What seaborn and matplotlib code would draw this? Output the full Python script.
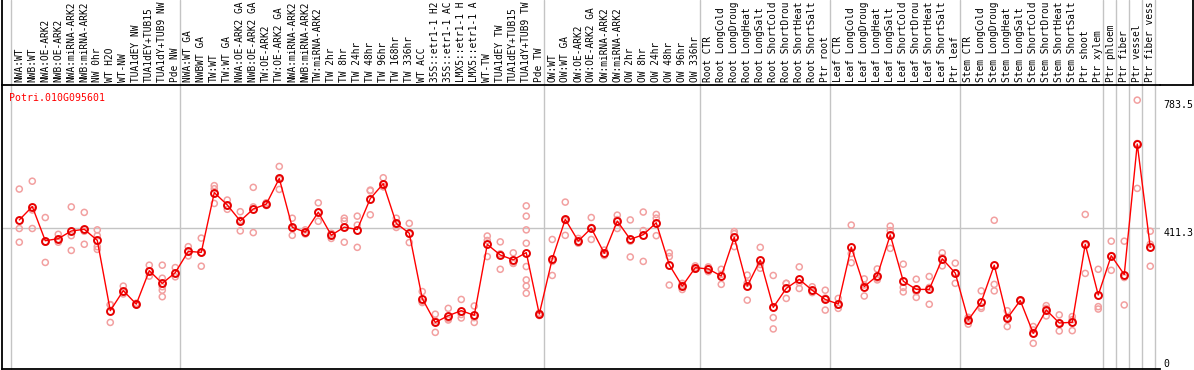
import matplotlib
matplotlib.use("Agg")
import matplotlib.pyplot as plt
import matplotlib.transforms as mtransforms
from matplotlib.lines import Line2D
import numpy as np
import pandas as pd
import seaborn as sns

gene = "Potri.010G095601"

categories = [
    "NWA:WT", "NWB:WT", "NWA:OE-ARK2", "NWB:OE-ARK2", "NWA:miRNA-ARK2", "NWB:miRNA-ARK2",
    "NW 0hr", "WT H2O", "WT-NW", "TUA1dEY NW", "TUA1dEY+TUB15", "TUA1dY+TUB9 NW", "Pde NW",
    "NWA:WT GA", "NWBWT GA", "TW:WT", "TW:WT GA", "NWA:OE-ARK2 GA", "NWB:OE-ARK2 GA",
    "TW:OE-ARK2", "TW:OE-ARK2 GA", "NWA:miRNA-ARK2", "NWB:miRNA-ARK2", "TW:miRNA-ARK2",
    "TW 2hr", "TW 8hr", "TW 24hr", "TW 48hr", "TW 96hr", "TW 168hr", "TW 336hr", "WT ACC",
    "35S::etr1-1 H2", "35S::etr1-1 AC", "LMX5::etr1-1 H", "LMX5::etr1-1 A",
    "WT-TW", "TUA1dEY TW", "TUA1dEY+TUB15", "TUA1dY+TUB9 TW", "Pde TW",
    "OW:WT", "OW:WT GA", "OW:OE-ARK2", "OW:OE-ARK2 GA", "OW:miRNA-ARK2", "OW:miRNA-ARK2",
    "OW 2hr", "OW 8hr", "OW 24hr", "OW 48hr", "OW 96hr", "OW 336hr",
    "Root CTR", "Root LongCold", "Root LongDroug", "Root LongHeat", "Root LongSalt",
    "Root ShortCold", "Root ShortDrou", "Root ShortHeat", "Root ShortSalt", "Ptr root",
    "Leaf CTR", "Leaf LongCold", "Leaf LongDroug", "Leaf LongHeat", "Leaf LongSalt",
    "Leaf ShortCold", "Leaf ShortDrou", "Leaf ShortHeat", "Leaf ShortSalt", "Ptr leaf",
    "Stem CTR", "Stem LongCold", "Stem LongDroug", "Stem LongHeat", "Stem LongSalt",
    "Stem ShortCold", "Stem ShortDrou", "Stem ShortHeat", "Stem ShortSalt", "Ptr shoot",
    "Ptr xylem", "Ptr phloem", "Ptr fiber", "Ptr vessel", "Ptr fiber vess",
]

replicates = [
    [524, 409, 369], [547, 463, 409], [441, 369, 310], [392, 377, 369], [472, 388, 345],
    [456, 401, 363], [405, 388, 356, 348], [187, 186, 135], [241, 224, 218], [191, 188, 186],
    [302, 286, 270], [302, 264, 239, 229, 210], [295, 278, 268], [356, 342, 329],
    [381, 338, 299], [534, 525, 482], [492, 476, 465], [458, 433, 402], [529, 472, 397],
    [484, 480, 476], [590, 552, 523], [439, 409, 389], [405, 397, 393], [484, 456, 430],
    [395, 393, 380], [439, 431, 369], [445, 419, 354], [521, 519, 449], [557, 531, 531],
    [439, 421, 412], [424, 393, 368], [225, 195, 193], [159, 140, 106], [176, 146, 142],
    [202, 158, 148], [183, 149, 135], [387, 374, 327], [370, 335, 290], [338, 308, 307],
    [475, 445, 405, 366, 298, 259, 241, 220], [162, 161, 155],
    [377, 313, 272], [486, 432, 389], [380, 371, 366], [441, 412, 377], [346, 334, 330],
    [448, 435, 409], [434, 372, 326], [457, 403, 313], [450, 439, 388], [338, 327, 244],
    [249, 243, 231], [300, 294, 290],
    [297, 293, 283], [290, 275, 246], [400, 394, 356], [273, 250, 200], [354, 304, 293],
    [272, 149, 116], [249, 249, 205], [297, 251, 234], [239, 225, 222], [229, 206, 171],
    [205, 185, 176], [419, 336, 309], [262, 244, 212], [291, 264, 259], [416, 403, 351],
    [305, 237, 224], [261, 225, 208], [269, 237, 188], [338, 324, 300], [308, 280, 249],
    [150, 146, 130], [227, 181, 176], [433, 246, 227], [169, 149, 123], [200, 199, 198],
    [123, 113, 74], [184, 176, 154], [157, 133, 110], [152, 143, 111], [450, 360, 278],
    [290, 181, 174], [372, 330, 287], [372, 266, 186], [783.5, 657, 526], [401, 363, 299],
]

# separators are drawn after these category indices
group_ends = [-1, 12, 40, 52, 62, 72, 83, 84, 85, 86, 87]
ytick_values = [0, 411.3, 783.5]
ytick_labels = ["0", "411.3", "783.5"]

rows = []
for i, reps in enumerate(replicates):
    for v in reps:
        rows.append({"pos": i, "category": categories[i], "value": v})
df = pd.DataFrame(rows)

sns.set_style("white")
plt.rcParams["font.family"] = ["DejaVu Sans Mono"]
FS = 7.1
FS_LAB = 6.85

W, H = 1194, 370
fig = plt.figure(figsize=(W / 100, H / 100), dpi=100)
ax_left, ax_right, ax_top, ax_bot = 2, 1160, 85, 368.7
ax = fig.add_axes([ax_left / W, (H - ax_bot) / H, (ax_right - ax_left) / W, (ax_bot - ax_top) / H])

pink = "#f2a0a0"
red = "#ff0000"

# separators
for g in group_ends:
    ax.axvline(g + 0.38, ymin=0, ymax=(ax_bot - 0) / (ax_bot - ax_top), color="#c4c4c4",
               lw=1.0, clip_on=False, zorder=0)
ax.axhline(411.3, color="#c4c4c4", lw=1.0, zorder=0)

sns.scatterplot(data=df, x="pos", y="value", ax=ax, marker="o", s=19,
                facecolors="none", edgecolor=pink, linewidth=1.1, zorder=2, legend=False)
sns.lineplot(data=df, x="pos", y="value", ax=ax, estimator="mean", errorbar=None,
             color=red, lw=1.0, marker="o", markersize=5.0, markerfacecolor="none",
             markeredgecolor="#e60000", markeredgewidth=1.4, zorder=3, legend=False)

ax.set_xlim(-1.33, 87.75)
ax.set_ylim(0, 827.6)
ax.set_xlabel("")
ax.set_ylabel("")
ax.set_xticks([])

ax.yaxis.tick_right()
ax.set_yticks(ytick_values)
ax.set_yticklabels(ytick_labels)
ax.tick_params(axis="y", length=0, pad=2.5, labelsize=FS, labelcolor="black")
for lab, v in zip(ax.get_yticklabels(), ytick_values):
    lab.set_va("bottom" if v == 0 else "top")

for side in ["left", "bottom", "top"]:
    ax.spines[side].set_visible(True)
    ax.spines[side].set_color("black")
    ax.spines[side].set_linewidth(1.3)
ax.spines["right"].set_visible(False)

ax.text(0.0063, 0.972, gene, transform=ax.transAxes, color="red", fontsize=FS,
        ha="left", va="top")

trans = mtransforms.blended_transform_factory(ax.transData, ax.transAxes)
for i, lab in enumerate(categories):
    ax.text(i, 1.0 + 3 / (ax_bot - ax_top), lab, rotation=90, ha="center", va="bottom",
            transform=trans, clip_on=False, fontsize=FS_LAB, color="black")

# label strip frame
fig.add_artist(Line2D([1193 / W, 1193 / W], [(H - ax_top) / H, 1.0], transform=fig.transFigure,
                      color="black", lw=1.3))
fig.add_artist(Line2D([ax_right / W, 1193 / W], [(H - ax_top) / H, (H - ax_top) / H],
                      transform=fig.transFigure, color="black", lw=1.3))
fig.add_artist(Line2D([ax_left / W, ax_left / W], [(H - ax_top) / H, 1.0], transform=fig.transFigure,
                      color="black", lw=1.3))

fig.savefig("out.png", dpi=100)
